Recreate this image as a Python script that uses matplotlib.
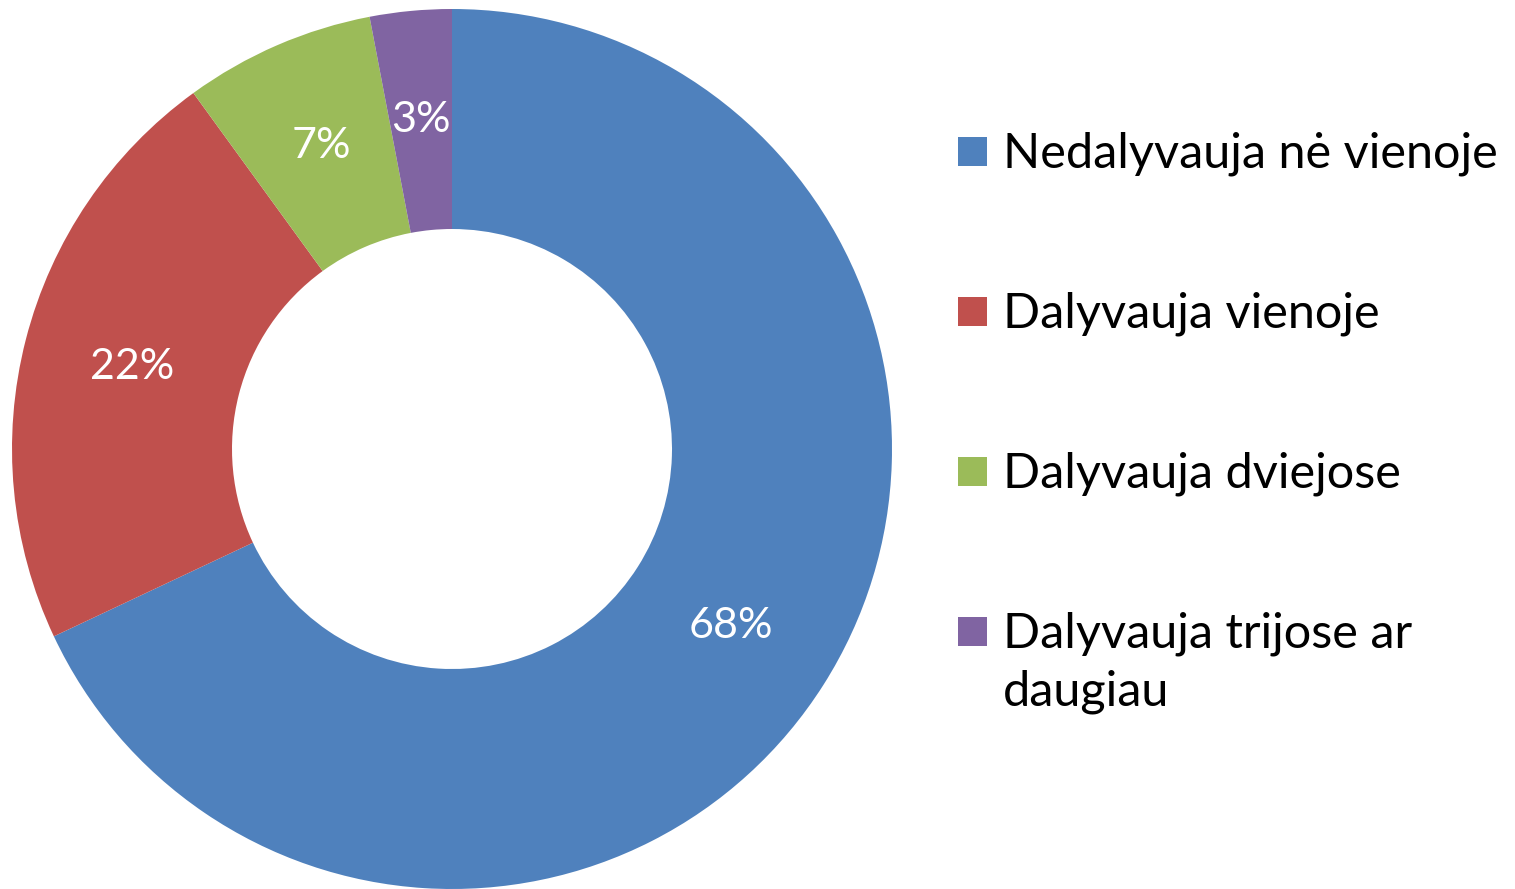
import matplotlib
matplotlib.use("Agg")
import matplotlib.pyplot as plt
from matplotlib.patches import Rectangle

labels = ["Nedalyvauja nė vienoje", "Dalyvauja vienoje", "Dalyvauja dviejose",
          "Dalyvauja trijose ar\ndaugiau"]
values = [68, 22, 7, 3]
colors = ["#4F81BD", "#C0504D", "#9BBB59", "#8064A2"]

plt.rcParams['font.family'] = ['Lato', 'DejaVu Sans']

W, H = 1515, 889
fig = plt.figure(figsize=(W / 100, H / 100), dpi=100)

# donut centred at (452, 449) px, outer radius ~440 px
cx, cy, R = 452, 449, 440
ax = fig.add_axes([(cx - R) / W, (H - cy - R) / H, 2 * R / W, 2 * R / H])
wedges, texts, autotexts = ax.pie(values, colors=colors, startangle=90, counterclock=False,
                                  radius=1.0, wedgeprops=dict(width=0.5, linewidth=0),
                                  autopct=lambda p: f"{p:.0f}%", pctdistance=0.75,
                                  textprops=dict(color="white", fontsize=31))
ax.set_xlim(-1, 1)
ax.set_ylim(-1, 1)
ax.axis("off")

# legend drawn by hand, marker aligned with the first text line
for i, (lab, col) in enumerate(zip(labels, colors)):
    base = 167 + 160 * i
    fig.patches.append(Rectangle((958 / W, 1 - (base - 1) / H), 29 / W, 29 / H,
                                 transform=fig.transFigure, facecolor=col, edgecolor="none"))
    for j, line in enumerate(lab.split("\n")):
        fig.text(1003 / W, 1 - (base + 58 * j) / H, line, fontsize=35,
                 va="baseline", ha="left", color="black")

fig.savefig("out.png", dpi=100)
